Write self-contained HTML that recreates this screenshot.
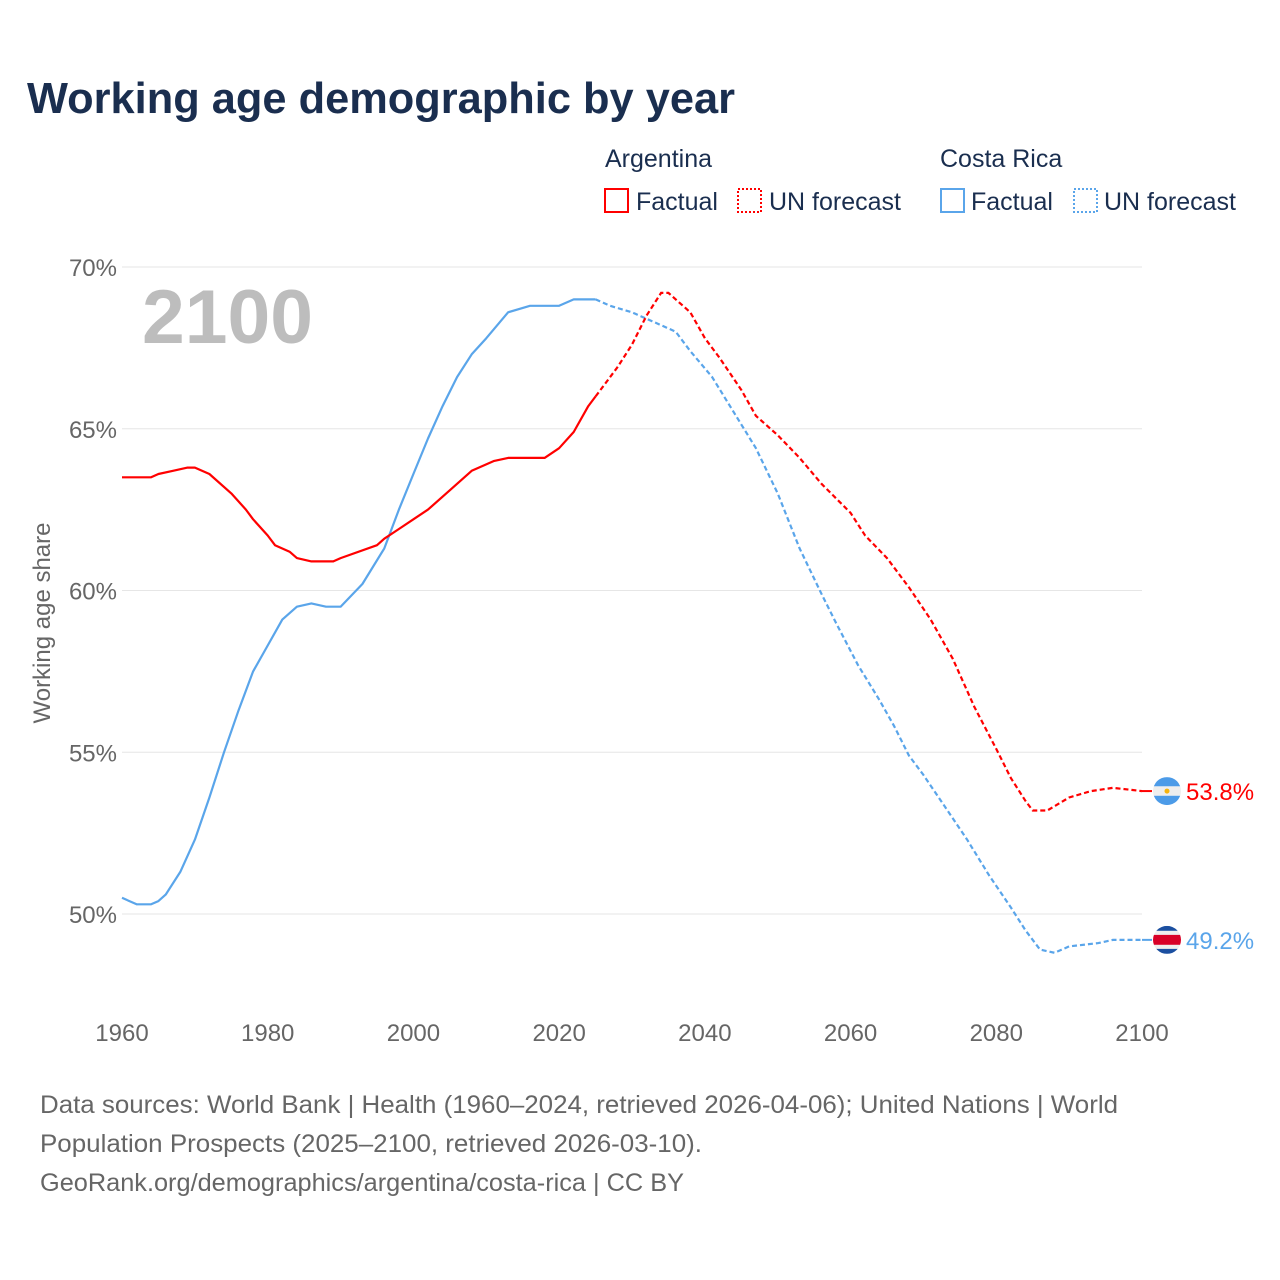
<!DOCTYPE html>
<html><head><meta charset="utf-8"><style>
body{margin:0;background:#fff;font-family:"Liberation Sans",sans-serif}
svg{display:block}
</style></head><body>
<svg id="c" width="1280" height="1280" viewBox="0 0 1280 1280" xmlns="http://www.w3.org/2000/svg">
<text x="27" y="113" font-size="44" font-weight="bold" fill="#1a2e4f" textLength="708" lengthAdjust="spacingAndGlyphs">Working age demographic by year</text>
<g font-size="25" fill="#1a2e4f">
<text x="605" y="167">Argentina</text>
<text x="940" y="167">Costa Rica</text>
<rect x="605" y="189" width="23" height="23" fill="none" stroke="#f00" stroke-width="2"/>
<text x="636" y="210">Factual</text>
<rect x="738" y="189" width="23" height="23" fill="none" stroke="#f00" stroke-width="2" stroke-dasharray="2 2"/>
<text x="769" y="210">UN forecast</text>
<rect x="941" y="189" width="23" height="23" fill="none" stroke="#5aa5ea" stroke-width="2"/>
<text x="971" y="210">Factual</text>
<rect x="1074" y="189" width="23" height="23" fill="none" stroke="#5aa5ea" stroke-width="2" stroke-dasharray="2 2"/>
<text x="1104" y="210">UN forecast</text>
</g>
<g id="grid"></g>
<text x="142" y="343" font-size="76" font-weight="bold" fill="#bdbdbd" textLength="171" lengthAdjust="spacingAndGlyphs">2100</text>
<text transform="translate(50,623) rotate(-90)" text-anchor="middle" font-size="24" fill="#666">Working age share</text>
<g id="series"></g>
<g font-size="25" fill="#666">
<text x="40" y="1113" textLength="1078" lengthAdjust="spacingAndGlyphs">Data sources: World Bank | Health (1960–2024, retrieved 2026-04-06); United Nations | World</text>
<text x="40" y="1152" textLength="662" lengthAdjust="spacingAndGlyphs">Population Prospects (2025–2100, retrieved 2026-03-10).</text>
<text x="40" y="1191" textLength="644" lengthAdjust="spacingAndGlyphs">GeoRank.org/demographics/argentina/costa-rica | CC BY</text>
</g>
</svg>
<script>
const yTicks=[50,55,60,65,70];
const xTicks=[1960,1980,2000,2020,2040,2060,2080,2100];
const argYears=[1960,1964,1965,1967,1969,1970,1972,1975,1977,1978,1980,1981,1983,1984,1986,1989,1990,1995,1996,1998,2000,2002,2005,2008,2011,2013,2018,2020,2022,2024,2025,2026,2028,2030,2032,2034,2035,2038,2040,2042,2045,2047,2050,2053,2056,2060,2062,2065,2068,2071,2074,2077,2080,2082,2084,2085,2087,2090,2093,2096,2100];
const argVals=[63.5,63.5,63.6,63.7,63.8,63.8,63.6,63.0,62.5,62.2,61.7,61.4,61.2,61.0,60.9,60.9,61.0,61.4,61.6,61.9,62.2,62.5,63.1,63.7,64.0,64.1,64.1,64.4,64.9,65.7,66.0,66.3,66.9,67.6,68.5,69.2,69.2,68.6,67.8,67.2,66.2,65.4,64.8,64.1,63.3,62.4,61.7,61.0,60.1,59.1,57.9,56.4,55.1,54.2,53.5,53.2,53.2,53.6,53.8,53.9,53.8];
const crYears=[1960,1962,1964,1965,1966,1968,1970,1972,1974,1976,1978,1980,1982,1984,1986,1988,1990,1993,1996,1998,2000,2002,2004,2006,2008,2010,2013,2016,2020,2022,2025,2027,2030,2033,2036,2038,2041,2044,2047,2050,2053,2056,2058,2061,2064,2066,2068,2070,2073,2076,2079,2082,2084,2086,2088,2090,2094,2096,2100];
const crVals=[50.5,50.3,50.3,50.4,50.6,51.3,52.3,53.6,55.0,56.3,57.5,58.3,59.1,59.5,59.6,59.5,59.5,60.2,61.3,62.5,63.6,64.7,65.7,66.6,67.3,67.8,68.6,68.8,68.8,69.0,69.0,68.8,68.6,68.3,68.0,67.4,66.6,65.5,64.4,63.0,61.3,59.9,59.0,57.7,56.6,55.8,54.9,54.3,53.3,52.3,51.2,50.2,49.5,48.9,48.8,49.0,49.1,49.2,49.2];
const forecastStart=2025;
const X=y=>122+(y-1960)*(1142-122)/140;
const Y=v=>914-(v-50)*(914-267)/20;
const NS="http://www.w3.org/2000/svg";
function mk(t,a,p){const e=document.createElementNS(NS,t);for(const k in a)e.setAttribute(k,a[k]);p.appendChild(e);return e;}
const grid=document.getElementById('grid');
yTicks.forEach(v=>{
 const l=mk('line',{x1:122,x2:1142,y1:Y(v),y2:Y(v),stroke:'#e6e6e6','stroke-width':1},grid);
 
 
 const t=mk('text',{x:117,y:Y(v)+9,'text-anchor':'end','font-size':24,fill:'#666'},grid);
 t.textContent=v+'%';
 
 
});
xTicks.forEach(yr=>{
 const t=mk('text',{x:X(yr),y:1041,'text-anchor':'middle','font-size':24,fill:'#666'},grid);
 t.textContent=yr;
 
 
});
const ser=document.getElementById('series');
function draw(years,vals,color,name){
 const a=[],b=[];
 years.forEach((yr,i)=>{const p=X(yr).toFixed(1)+','+Y(vals[i]).toFixed(1);if(yr<=forecastStart)a.push(p);if(yr>=forecastStart)b.push(p);});
 const l1=mk('polyline',{points:a.join(' '),fill:'none',stroke:color,'stroke-width':2.2,'stroke-linejoin':'round'},ser);
 
 
 const l2=mk('polyline',{points:b.join(' '),fill:'none',stroke:color,'stroke-width':2.2,'stroke-dasharray':'5 3'},ser);
 
 
}
draw(crYears,crVals,'#5aa5ea','costa-rica');
draw(argYears,argVals,'#f00','argentina');
function endLabel(vals,color,name,flag){
 const v=vals[vals.length-1],y=Y(v);
 const g=mk('g',{},ser);
 
 
 mk('line',{x1:1142,x2:1152,y1:y,y2:y,stroke:color,'stroke-width':2},g);
 const cx=1167;
 mk('clipPath',{id:'cp'+name},g).appendChild(document.createElementNS(NS,'circle')).setAttribute('r',14);
 document.querySelector('#cp'+name+' circle').setAttribute('cx',cx);
 document.querySelector('#cp'+name+' circle').setAttribute('cy',y);
 const f=mk('g',{'clip-path':'url(#cp'+name+')'},g);
 flag.forEach(([c,h],i)=>{const off=flag.slice(0,i).reduce((s,q)=>s+q[1],0);mk('rect',{x:cx-14,y:y-14+off,width:28,height:h,fill:c},f);});
 if(name==='argentina')mk('circle',{cx:cx,cy:y,r:2.5,fill:'#f6b40e'},g);
 const t=mk('text',{x:1186,y:y+9,'font-size':24,fill:color},g);
 t.textContent=v.toFixed(1)+'%';
}
endLabel(argVals,'#f00','argentina',[['#4c9be8',9.3],['#eeeeee',9.4],['#4c9be8',9.3]]);
endLabel(crVals,'#5aa5ea','costa-rica',[['#1b4fa0',5],['#eeeeee',4],['#d80027',10],['#eeeeee',4],['#1b4fa0',5]]);
</script>
</body></html>
